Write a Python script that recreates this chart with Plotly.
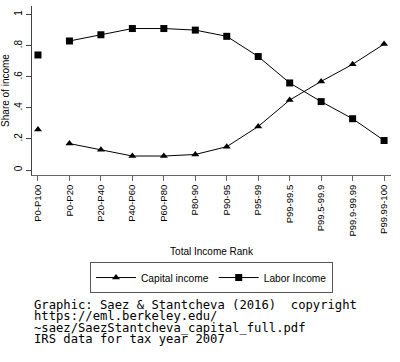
import plotly.graph_objects as go

categories = ["P0-P100", "P0-P20", "P20-P40", "P40-P60", "P60-P80", "P80-90",
              "P90-95", "P95-99", "P99-99.5", "P99.5-99.9", "P99.9-99.99", "P99.99-100"]
capital = [0.26, 0.17, 0.13, 0.09, 0.09, 0.10, 0.15, 0.28, 0.45, 0.57, 0.68, 0.81]
labor = [0.74, 0.83, 0.87, 0.91, 0.91, 0.90, 0.86, 0.73, 0.56, 0.44, 0.33, 0.19]
yticks = [0, 0.2, 0.4, 0.6, 0.8, 1]
ytick_text = ["0", ".2", ".4", ".6", ".8", "1"]
notes = ["Graphic: Saez & Stantcheva (2016)  copyright",
         "https://eml.berkeley.edu/",
         "~saez/SaezStantcheva_capital_full.pdf",
         "IRS data for tax year 2007"]

xi = list(range(len(categories)))
fig = go.Figure()
for name, vals, sym in [("Capital income", capital, "triangle-up"),
                        ("Labor Income", labor, "square")]:
    fig.add_trace(go.Scatter(x=xi[1:], y=vals[1:], mode="lines+markers", name=name,
                             line=dict(color="black", width=1),
                             marker=dict(symbol=sym, color="black", size=7)))
    fig.add_trace(go.Scatter(x=xi[:1], y=vals[:1], mode="markers", showlegend=False,
                             marker=dict(symbol=sym, color="black", size=7)))

fig.update_layout(
    width=400, height=362,
    margin=dict(l=32, r=9, t=6, b=187, autoexpand=False),
    paper_bgcolor="white", plot_bgcolor="white",
    font=dict(family="Liberation Sans, Arial, sans-serif", size=10, color="black"),
    showlegend=True,
    legend=dict(orientation="h", x=0.5, xanchor="center", y=-0.515, yanchor="top",
                bordercolor="#555", borderwidth=1, font=dict(size=10.2),
                itemwidth=40, traceorder="normal"),
    xaxis=dict(range=[-0.19, 11.22], tickmode="array", tickvals=xi, ticktext=categories,
               tickangle=-90, ticks="outside", ticklen=5, tickcolor="#666",
               showline=True, linecolor="#666", linewidth=1, showgrid=False,
               zeroline=False, tickfont=dict(size=9.5), automargin=False,
               title=dict(text="Total Income Rank", font=dict(size=10), standoff=12)),
    yaxis=dict(range=[-0.032, 1.055], tickmode="array", tickvals=yticks, ticktext=ytick_text,
               tickangle=-90, ticks="outside", ticklen=5, tickcolor="#444",
               showline=True, linecolor="#444", linewidth=1, showgrid=False,
               zeroline=False, tickfont=dict(size=10), automargin=False,
               title=dict(text="Share of income", font=dict(size=10), standoff=1)),
)

for i, t in enumerate(notes):
    fig.add_annotation(text=t, xref="paper", yref="paper", x=0.0, xanchor="left",
                       y=-0.769 - i * 0.068, yanchor="middle", showarrow=False,
                       font=dict(family="DejaVu Sans Mono, monospace", size=12.2, color="black"))

fig.write_html("out.html", config={"displayModeBar": False},
               post_script="document.body.style.margin='0';")
